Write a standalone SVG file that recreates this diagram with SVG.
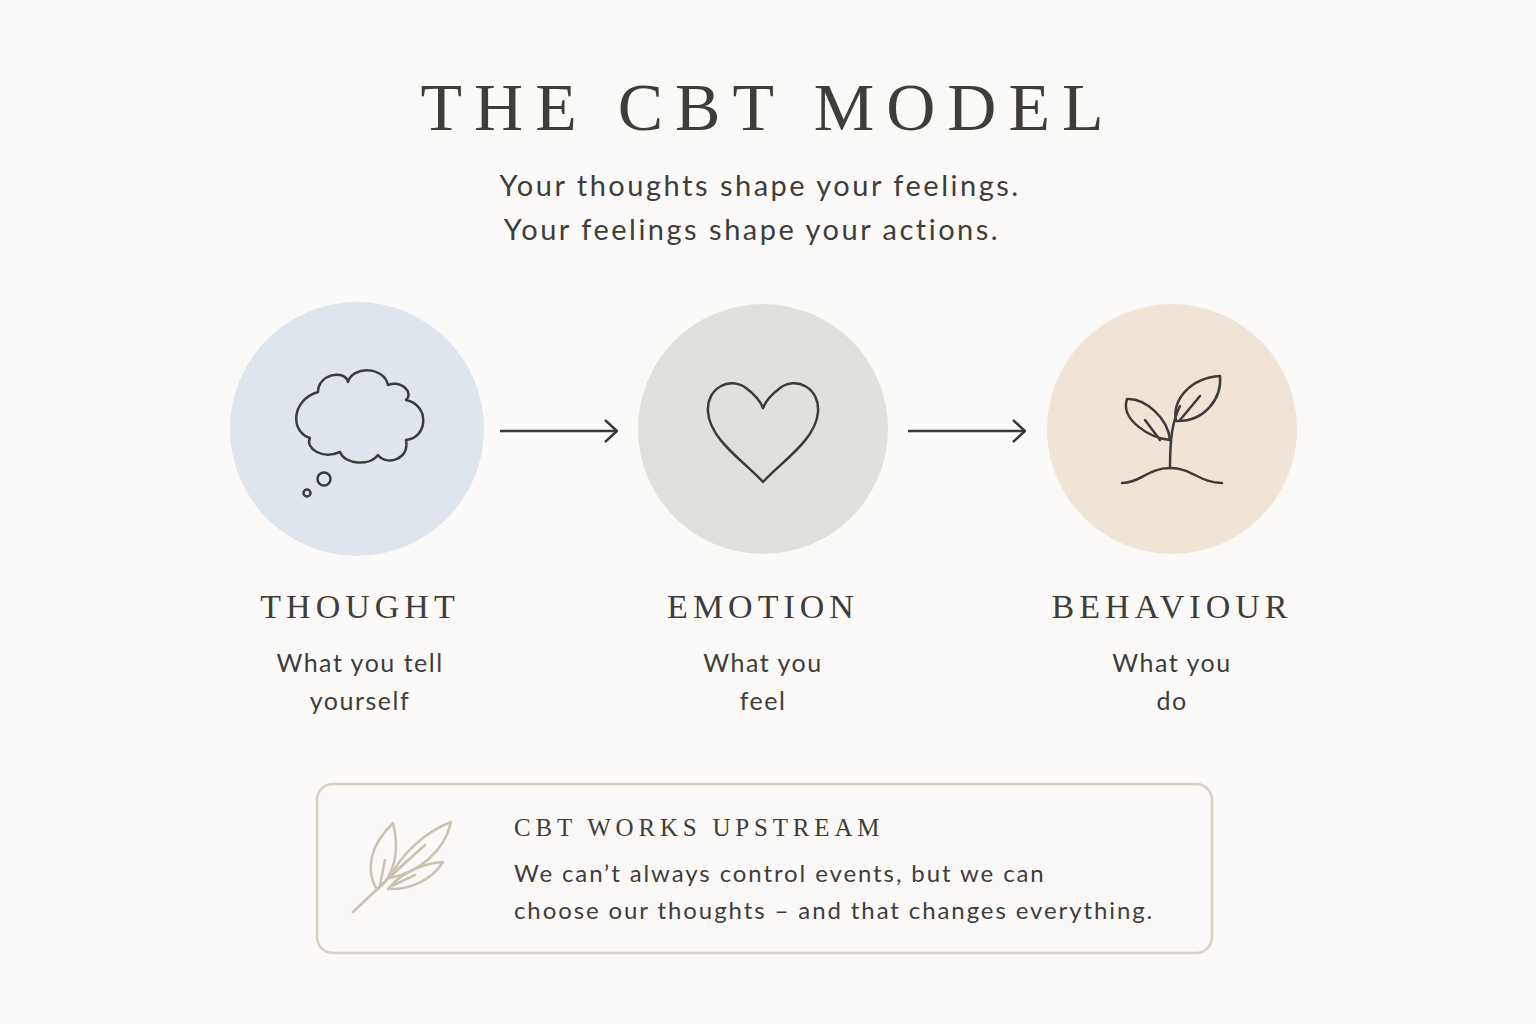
<svg xmlns="http://www.w3.org/2000/svg" width="1536" height="1024" viewBox="0 0 1536 1024">
<style>
.title{font-family:"Liberation Serif",serif;fill:#3f3d3a}
.sans{font-family:"Lato","Open Sans",sans-serif;fill:#3f3d3a}
.icon{fill:none;stroke:#3d3b39;stroke-width:2.5;stroke-linecap:round;stroke-linejoin:round}
.leaf{fill:none;stroke:#cbc2b2;stroke-width:2.5;stroke-linecap:round;stroke-linejoin:round}
.conn{stroke:#3d3b39;stroke-width:2.5;fill:none}
</style>
<defs>
<marker id="ah" viewBox="0 0 14 24" refX="13" refY="12" markerWidth="14" markerHeight="24" markerUnits="userSpaceOnUse" orient="auto">
<path d="M1,1 L13,12 L1,23" fill="none" stroke="#3d3b39" stroke-width="2.5"/>
</marker>
</defs>
<rect width="1536" height="1024" fill="#fbfaf8"/>
<text class="title" x="768" y="130" text-anchor="middle" font-size="68" letter-spacing="12">THE CBT MODEL</text>
<text class="sans" x="760" y="196" text-anchor="middle" font-size="29" letter-spacing="2.5">Your thoughts shape your feelings.</text>
<text class="sans" x="752" y="240" text-anchor="middle" font-size="29" letter-spacing="2.5">Your feelings shape your actions.</text>

<g id="thought">
<circle cx="357" cy="429" r="127" fill="#dfe5ec"/>
<path class="icon" d="M318,392 C318,374 345,369 348,382 C352,366 384,366 388,385 C402,380 414,393 406,400 C430,405 428,438 406,440 C410,460 386,466 378,455 C370,466 345,465 340,452 C322,460 305,448 310,438 C290,432 291,400 318,392 Z"/>
<circle class="icon" cx="324" cy="479" r="6.5"/>
<circle class="icon" cx="307" cy="493" r="3.5"/>
<text class="title" x="360" y="618" text-anchor="middle" font-size="34" letter-spacing="5">THOUGHT</text>
<text class="sans" x="360" y="672" text-anchor="middle" font-size="25" letter-spacing="1.5">What you tell</text>
<text class="sans" x="360" y="710" text-anchor="middle" font-size="25" letter-spacing="1.5">yourself</text>
</g>

<g id="emotion">
<circle cx="763" cy="429" r="125" fill="#dfe2da"/>
<path class="icon" d="M763,482 C745,462 710,440 708,412 C706,388 730,376 746,388 C754,394 760,400 763,408 C766,400 772,394 780,388 C796,376 820,388 818,412 C816,440 781,462 763,482 Z"/>
<text class="title" x="763" y="618" text-anchor="middle" font-size="34" letter-spacing="5">EMOTION</text>
<text class="sans" x="763" y="672" text-anchor="middle" font-size="25" letter-spacing="1.5">What you</text>
<text class="sans" x="763" y="710" text-anchor="middle" font-size="25" letter-spacing="1.5">feel</text>
</g>

<g id="behaviour">
<circle cx="1172" cy="429" r="125" fill="#f0e4d7"/>
<path class="icon" d="M1170,468 C1170,440 1172,422 1180,406"/>
<path class="icon" d="M1170,440 C1150,438 1120,420 1127,399 C1145,398 1168,418 1170,440 Z M1145,420 L1160,440"/>
<path class="icon" d="M1176,421 C1172,400 1190,378 1220,376 C1222,398 1205,422 1176,421 Z M1180,420 L1200,396"/>
<path class="icon" d="M1122,483 C1140,483 1148,468 1170,468 C1192,468 1200,483 1222,483"/>
<text class="title" x="1172" y="618" text-anchor="middle" font-size="34" letter-spacing="5">BEHAVIOUR</text>
<text class="sans" x="1172" y="672" text-anchor="middle" font-size="25" letter-spacing="1.5">What you</text>
<text class="sans" x="1172" y="710" text-anchor="middle" font-size="25" letter-spacing="1.5">do</text>
</g>

<g id="connectors">
<line class="conn" x1="500" y1="431" x2="617" y2="431" marker-end="url(#ah)"/>
<line class="conn" x1="908" y1="431" x2="1025" y2="431" marker-end="url(#ah)"/>
</g>

<g id="note">
<rect x="317" y="784" width="895" height="169" rx="16" fill="#faf9f7" stroke="#d8d0c2" stroke-width="2.5"/>
<path class="leaf" d="M353,912 L408,860"/>
<path class="leaf" d="M377,890 C365,870 370,845 393,823 C400,850 395,875 377,890 Z M380,885 L385,860"/>
<path class="leaf" d="M390,878 C400,855 425,832 451,822 C445,850 420,872 390,878 Z M395,872 L425,845"/>
<path class="leaf" d="M388,889 C405,868 430,863 443,862 C432,880 410,890 388,889 Z M392,886 L415,875"/>
<text class="title" x="514" y="836" font-size="25" letter-spacing="4.8">CBT WORKS UPSTREAM</text>
<text class="sans" x="514" y="882" font-size="24" letter-spacing="1.9">We can’t always control events, but we can</text>
<text class="sans" x="514" y="919" font-size="24" letter-spacing="1.9">choose our thoughts – and that changes everything.</text>
</g>
</svg>
